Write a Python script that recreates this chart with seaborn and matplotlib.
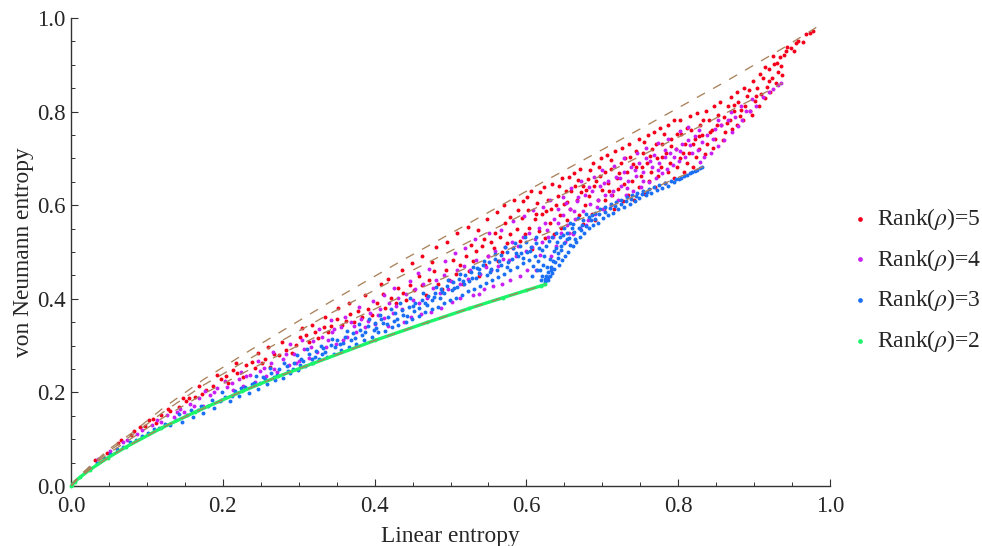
import matplotlib
matplotlib.use("Agg")
import matplotlib.pyplot as plt
import seaborn as sns
import pandas as pd
from matplotlib.ticker import MultipleLocator

# boundary curves, (linear entropy, von Neumann entropy)
curve_top = [(0, 0), (.003, .0072), (.0125, .024), (.0494, .078), (.08, .113), (.121, .166), (.175, .228), (.234, .288),
             (.340, .392), (.4375, .483), (.609, .638), (.75, .763), (.859, .861), (.9375, .935), (.984, .982)]
curve_rank4 = [(0, 0), (.003, .0068), (.0125, .023), (.0497, .0746), (.08, .108), (.1208, .157), (.175, .216),
               (.233, .270), (.3375, .365), (.433, .447), (.6, .584), (.733, .691), (.833, .772), (.9, .828),
               (.9375, .861)]
curve_rank3 = [(0, 0), (.003, .0065), (.0125, .0217), (.0492, .0695), (.08, .102), (.1203, .145), (.175, .197),
               (.231, .245), (.333, .327), (.425, .397), (.581, .509), (.7, .59), (.781, .646), (.8333, .6826)]
curve_rank2 = [(0, 0), (.0012, .0028), (.005, .0091), (.012, .019), (.0248, .0347), (.049, .0608), (.0728, .0837),
               (.119, .1237), (.163, .1576), (.225, .202), (.273, .2341), (.319, .262), (.4, .3109), (.469, .3494),
               (.525, .3796), (.569, .4023), (.6, .418), (.619, .4276), (.625, .4307)]

rank5_points = [
    (.031, .056), (.047, .071), (.062, .091), (.066, .098), (.079, .108), (.083, .117), (.091, .126), (.098, .129),
    (.103, .141), (.108, .144), (.112, .135), (.119, .151), (.131, .160), (.142, .168), (.151, .181), (.156, .187),
    (.163, .190), (.172, .197), (.178, .205), (.187, .214), (.198, .228), (.204, .236), (.207, .221), (.213, .247),
    (.219, .241), (.226, .232), (.231, .258), (.238, .264), (.243, .252), (.251, .262), (.256, .271), (.262, .255),
    (.268, .282), (.274, .279), (.283, .291), (.291, .284), (.297, .302), (.302, .319), (.309, .322), (.314, .308),
    (.321, .330), (.326, .317), (.333, .339), (.338, .328), (.342, .341), (.351, .357), (.357, .344), (.362, .352),
    (.368, .368), (.373, .351), (.378, .373), (.384, .362), (.391, .379), (.396, .366), (.403, .391), (.411, .411),
    (.414, .381), (.421, .402), (.428, .392), (.431, .424), (.437, .413), (.442, .398), (.447, .429), (.452, .418),
    (.458, .449), (.463, .429), (.468, .409), (.472, .441), (.478, .459), (.483, .432), (.489, .421), (.494, .462),
    (.498, .441), (.503, .483), (.507, .452), (.512, .472), (.516, .432), (.521, .491), (.524, .459), (.529, .481),
    (.533, .502), (.538, .449), (.541, .513), (.546, .472), (.549, .492), (.553, .522), (.557, .509), (.562, .481),
    (.565, .531), (.568, .499), (.572, .561), (.575, .519), (.579, .538), (.583, .508), (.587, .549), (.591, .523),
    (.594, .572), (.598, .538), (.602, .589), (.604, .552), (.608, .507), (.611, .571), (.614, .604), (.617, .544),
    (.621, .581), (.624, .529), (.628, .612), (.631, .561), (.633, .592), (.637, .538), (.641, .619), (.644, .579),
    (.646, .551), (.649, .602), (.652, .631), (.654, .569), (.657, .591), (.661, .541), (.664, .642), (.667, .612),
    (.669, .578), (.672, .629), (.674, .559), (.677, .601), (.681, .655), (.683, .619), (.686, .581), (.689, .641),
    (.691, .568), (.694, .612), (.697, .662), (.699, .632), (.702, .591), (.704, .611), (.707, .648), (.711, .678),
    (.713, .621), (.716, .592), (.719, .659), (.721, .634), (.724, .691), (.727, .608), (.729, .646), (.732, .671),
    (.734, .622), (.737, .702), (.739, .651), (.742, .612), (.745, .681), (.748, .639), (.751, .662), (.753, .711),
    (.756, .625), (.759, .691), (.761, .651), (.764, .672), (.766, .721), (.769, .638), (.772, .701), (.774, .662),
    (.777, .681), (.779, .731), (.782, .648), (.784, .712), (.787, .671), (.789, .691), (.791, .742), (.794, .659),
    (.797, .721), (.799, .682), (.802, .701), (.804, .752), (.807, .671), (.809, .731), (.812, .691), (.814, .712),
    (.817, .761), (.819, .681), (.822, .741), (.824, .703), (.827, .721), (.829, .772), (.832, .751), (.835, .709),
    (.838, .731), (.841, .781), (.844, .761), (.846, .722), (.849, .742), (.853, .792), (.856, .771), (.859, .739),
    (.862, .756), (.865, .811), (.868, .783), (.871, .762), (.874, .801), (.877, .772), (.879, .821), (.882, .791),
    (.885, .781), (.888, .812), (.891, .833), (.894, .802), (.897, .792), (.901, .822), (.904, .851), (.907, .812),
    (.909, .838), (.912, .871), (.915, .829), (.917, .852), (.919, .891), (.921, .842), (.924, .871), (.926, .902),
    (.929, .861), (.931, .885), (.934, .916), (.937, .878), (.939, .921), (.942, .929), (.944, .939), (.948, .936),
    (.952, .929), (.955, .947), (.958, .951), (.965, .949), (.969, .966), (.974, .968), (.977, .972),
    # upper sparse part of the band and the middle of the cloud
    (.128, .165), (.148, .187), (.169, .213), (.193, .238), (.217, .262), (.246, .284), (.259, .298), (.278, .308),
    (.305, .338), (.318, .345), (.335, .362), (.352, .381), (.366, .391), (.387, .408), (.408, .431), (.418, .442),
    (.436, .462), (.449, .477), (.462, .491), (.481, .511), (.476, .478), (.495, .521), (.509, .541), (.523, .553),
    (.536, .548), (.527, .516), (.544, .528), (.548, .571), (.559, .541), (.561, .586), (.571, .601), (.578, .574),
    (.584, .611), (.589, .589), (.596, .609), (.601, .618), (.606, .631), (.613, .581), (.618, .629), (.623, .638),
    (.626, .588), (.634, .646), (.639, .601), (.643, .642), (.647, .658), (.653, .606), (.656, .661), (.659, .631),
    (.663, .668), (.668, .653), (.671, .678), (.675, .642), (.679, .632), (.684, .676), (.688, .691), (.692, .652),
    (.695, .681), (.698, .701), (.703, .672), (.706, .708), (.709, .631), (.712, .697), (.717, .716), (.722, .668),
    (.726, .722), (.73, .701), (.735, .731), (.74, .688), (.744, .716), (.749, .742), (.752, .681), (.755, .735),
    (.76, .751), (.763, .706), (.768, .756), (.771, .731), (.776, .765), (.778, .703), (.781, .752), (.786, .772),
    (.79, .727), (.795, .781), (.798, .752), (.803, .783), (.806, .711), (.811, .766), (.816, .791), (.82, .731),
    (.825, .796), (.828, .748), (.833, .781), (.837, .802), (.842, .757), (.847, .811), (.851, .772), (.855, .821),
    (.86, .789), (.864, .776), (.87, .832), (.873, .814), (.878, .841), (.883, .803), (.887, .851), (.893, .846),
    (.898, .866), (.903, .833), (.908, .881), (.914, .895), (.92, .866), (.925, .918), (.93, .903), (.936, .898),
]

rank4_points = [
    (.036, .058), (.052, .074), (.068, .094), (.074, .098), (.087, .111), (.094, .119), (.107, .131), (.113, .141),
    (.127, .151), (.136, .147), (.144, .165), (.149, .158), (.157, .176), (.168, .188), (.174, .171), (.183, .194),
    (.192, .209), (.197, .183), (.206, .212), (.214, .206), (.221, .228), (.227, .213), (.236, .237), (.242, .222),
    (.249, .246), (.257, .235), (.264, .262), (.271, .243), (.279, .271), (.287, .258), (.294, .281), (.301, .268),
    (.307, .292), (.313, .274), (.319, .309), (.324, .286), (.331, .318), (.336, .298), (.344, .328), (.349, .303),
    (.356, .339), (.363, .318), (.369, .351), (.376, .328), (.382, .357), (.388, .339), (.394, .369), (.401, .347),
    (.407, .378), (.413, .358), (.419, .392), (.424, .369), (.431, .401), (.436, .379), (.442, .411), (.448, .362),
    (.453, .421), (.459, .391), (.464, .431), (.469, .402), (.474, .372), (.481, .441), (.486, .412), (.491, .451),
    (.497, .421), (.502, .393), (.508, .461), (.513, .432), (.518, .471), (.523, .442), (.529, .408), (.534, .482),
    (.539, .452), (.544, .421), (.549, .491), (.553, .461), (.558, .502), (.563, .471), (.568, .431), (.572, .511),
    (.577, .482), (.581, .522), (.586, .491), (.591, .449), (.595, .531), (.599, .502), (.604, .541), (.608, .511),
    (.612, .462), (.616, .551), (.621, .521), (.625, .561), (.629, .531), (.633, .491), (.636, .571), (.639, .512),
    (.642, .562), (.645, .541), (.648, .579), (.651, .521), (.654, .558), (.657, .592), (.661, .539), (.664, .571),
    (.667, .609), (.671, .552), (.674, .588), (.677, .621), (.681, .569), (.684, .602), (.687, .631), (.691, .581),
    (.694, .612), (.697, .641), (.701, .592), (.704, .621), (.708, .652), (.711, .601), (.714, .631), (.718, .661),
    (.721, .612), (.724, .642), (.728, .672), (.731, .621), (.734, .651), (.738, .681), (.741, .631), (.744, .662),
    (.748, .691), (.751, .639), (.754, .671), (.758, .701), (.761, .649), (.765, .681), (.768, .708), (.771, .659),
    (.775, .691), (.778, .668), (.782, .702), (.785, .678), (.789, .712), (.793, .686), (.797, .721), (.801, .694),
    (.805, .731), (.809, .702), (.813, .739), (.818, .711), (.822, .748), (.826, .719), (.829, .693), (.834, .702),
    (.838, .751), (.843, .712), (.848, .762), (.852, .726), (.857, .771), (.861, .739), (.866, .781), (.871, .757),
    (.875, .789), (.879, .769), (.884, .781), (.889, .801), (.894, .802), (.902, .812), (.912, .832), (.919, .842),
    (.925, .849), (.931, .856), (.936, .861),
    # further samples through the middle of the band
    (.118, .137), (.139, .158), (.162, .171), (.188, .201), (.212, .221), (.231, .236), (.254, .252), (.268, .249),
    (.283, .282), (.297, .262), (.316, .296), (.339, .312), (.347, .336), (.358, .311), (.373, .342), (.391, .352),
    (.404, .365), (.417, .341), (.428, .384), (.439, .351), (.451, .398), (.461, .368), (.477, .423), (.488, .381),
    (.501, .438), (.512, .402), (.526, .462), (.537, .411), (.547, .468), (.556, .428), (.569, .486), (.579, .441),
    (.589, .512), (.601, .462), (.611, .528), (.618, .493), (.627, .548), (.635, .532), (.641, .592), (.652, .605),
    (.656, .541), (.663, .587), (.668, .618), (.678, .558), (.682, .638), (.693, .596), (.702, .648), (.712, .622),
    (.723, .658), (.733, .636), (.743, .676), (.753, .652), (.763, .694), (.773, .676), (.783, .718), (.794, .702),
    (.803, .716), (.816, .728), (.831, .736), (.846, .741),
    (.176, .202), (.203, .224), (.224, .244), (.247, .268), (.266, .287), (.289, .303), (.304, .311), (.327, .336),
    (.342, .354), (.361, .362), (.379, .382), (.398, .396), (.412, .409), (.426, .423), (.446, .438), (.457, .456),
    (.472, .463), (.493, .481), (.506, .498), (.519, .509), (.532, .527), (.551, .541), (.567, .546), (.582, .567),
    (.597, .576), (.609, .589), (.622, .596), (.631, .611), (.648, .617), (.659, .636), (.672, .652), (.689, .661),
    (.699, .676), (.716, .684), (.729, .701), (.746, .711), (.757, .722), (.774, .733), (.787, .741), (.802, .758),
    (.813, .768), (.827, .761), (.853, .781), (.869, .799), (.883, .811), (.897, .826),
]

rank3_points = [
    (.024, .038), (.034, .050), (.044, .060), (.052, .068), (.061, .078), (.069, .084), (.078, .094), (.086, .099),
    (.094, .106), (.101, .114), (.109, .122), (.116, .125), (.124, .133), (.131, .130), (.138, .142), (.146, .137),
    (.153, .152), (.161, .148), (.167, .163), (.174, .156), (.181, .172), (.188, .166), (.196, .182), (.203, .190),
    (.209, .181), (.216, .204), (.222, .192), (.229, .212), (.235, .199), (.241, .221), (.247, .208), (.253, .233),
    (.258, .218), (.264, .241), (.269, .226), (.274, .249), (.279, .231), (.285, .257), (.289, .241), (.294, .263),
    (.299, .247), (.303, .272), (.308, .256), (.313, .281), (.318, .262), (.323, .288), (.327, .271), (.332, .295),
    (.337, .276), (.342, .302), (.346, .283), (.351, .311), (.356, .291), (.361, .318), (.366, .297), (.371, .326),
    (.376, .304), (.381, .333), (.386, .312), (.391, .341), (.396, .319), (.401, .348), (.405, .328), (.409, .356),
    (.414, .331), (.418, .361), (.423, .339), (.427, .369), (.431, .344), (.436, .376), (.441, .351), (.445, .383),
    (.449, .357), (.453, .391), (.458, .363), (.462, .398), (.466, .371), (.471, .406), (.475, .378), (.479, .413),
    (.483, .383), (.487, .421), (.491, .391), (.495, .428), (.499, .397), (.503, .436), (.507, .402), (.511, .443),
    (.515, .408), (.519, .451), (.523, .416), (.527, .458), (.531, .421), (.535, .466), (.539, .428), (.543, .473),
    (.547, .433), (.551, .479), (.555, .441), (.559, .486), (.563, .447), (.567, .493), (.571, .452), (.575, .501),
    (.579, .461), (.583, .508), (.587, .468), (.591, .513), (.595, .476), (.599, .521), (.603, .482), (.607, .449),
    (.611, .491), (.614, .462), (.617, .509), (.619, .441), (.622, .472), (.624, .436), (.626, .449), (.628, .441),
    (.629, .458), (.631, .449), (.632, .468), (.634, .456), (.635, .481), (.637, .463), (.639, .541), (.641, .488),
    (.643, .472), (.645, .512), (.647, .482), (.649, .551), (.651, .492), (.653, .528), (.655, .501), (.658, .561),
    (.661, .512), (.663, .542), (.666, .521), (.668, .572), (.671, .531), (.673, .558), (.676, .541), (.679, .581),
    (.682, .551), (.685, .569), (.688, .558), (.691, .584), (.694, .562), (.697, .591), (.701, .572), (.704, .597),
    (.707, .578), (.711, .602), (.714, .584), (.718, .606), (.721, .591), (.725, .611), (.728, .597), (.732, .617),
    (.736, .603), (.739, .622), (.743, .609), (.746, .626), (.749, .615), (.753, .631), (.757, .621), (.761, .634),
    (.764, .627), (.768, .638), (.772, .632), (.775, .643), (.779, .637), (.783, .647), (.786, .642), (.79, .651),
    (.794, .649), (.797, .655), (.801, .656), (.804, .659), (.808, .662), (.811, .664), (.815, .668), (.818, .671),
    (.822, .674), (.825, .676), (.829, .679), (.832, .682),
    # inner part of the cloud, lower edge to upper edge
    (.142, .153), (.158, .162), (.171, .172), (.186, .184), (.199, .201), (.212, .193), (.224, .209), (.238, .218),
    (.244, .236), (.256, .229), (.262, .252), (.272, .238), (.281, .262), (.292, .251), (.298, .279), (.306, .268),
    (.311, .292), (.322, .276), (.329, .299), (.335, .286), (.344, .314), (.354, .303), (.363, .331), (.369, .313),
    (.379, .347), (.384, .322), (.393, .356), (.399, .334), (.407, .366), (.416, .346), (.421, .378), (.429, .356),
    (.434, .391), (.443, .364), (.447, .402), (.452, .374), (.459, .381), (.464, .412), (.469, .386), (.476, .398),
    (.481, .426), (.486, .401), (.492, .412), (.497, .441), (.502, .418), (.509, .426), (.513, .452), (.518, .431),
    (.525, .439), (.529, .468), (.533, .444), (.538, .456), (.544, .481), (.548, .451), (.553, .463), (.558, .496),
    (.561, .461), (.566, .473), (.572, .511), (.576, .478), (.581, .486), (.585, .519), (.589, .491), (.593, .498),
    (.598, .531), (.601, .501), (.606, .511), (.609, .471), (.612, .533), (.615, .481), (.618, .462), (.621, .448),
    (.623, .491), (.625, .443), (.627, .469), (.629, .447), (.631, .486), (.633, .461), (.636, .502), (.638, .478),
    (.64, .521), (.642, .498), (.644, .532), (.646, .504), (.65, .519), (.654, .541), (.657, .516), (.66, .551),
    (.664, .528), (.669, .552), (.674, .568), (.678, .556), (.683, .574), (.69, .571), (.696, .581), (.703, .586),
    (.71, .594), (.717, .598), (.724, .603), (.731, .609), (.738, .613), (.745, .619), (.752, .624), (.759, .629),
    (.249, .221), (.267, .233), (.286, .246), (.302, .259), (.317, .271), (.331, .282), (.348, .296), (.359, .305),
    (.374, .316), (.388, .328), (.402, .338), (.411, .348), (.425, .353), (.438, .366), (.451, .384), (.467, .392),
    (.478, .404), (.489, .414), (.504, .423), (.516, .438), (.528, .444), (.537, .463), (.552, .457), (.564, .481),
    (.574, .469), (.586, .497), (.596, .488), (.605, .503), (.613, .519), (.62, .505), (.626, .512), (.63, .524),
    (.634, .531), (.639, .508), (.648, .537), (.656, .529), (.662, .559), (.672, .546), (.686, .578),
]

rank2_points = curve_rank2

rank_labels = ["Rank($\\rho$)=5", "Rank($\\rho$)=4", "Rank($\\rho$)=3", "Rank($\\rho$)=2"]
rank_colors = ["#f5001a", "#c91ff5", "#1a6ff5", "#1cf56a"]
rank_data = [rank5_points, rank4_points, rank3_points, rank2_points]
x_ticks = [0.0, 0.2, 0.4, 0.6, 0.8, 1.0]

sns.set_style("white")
plt.rcParams["font.family"] = ["Liberation Serif", "DejaVu Serif"]
plt.rcParams["mathtext.fontset"] = "stix"

fig = plt.figure(figsize=(9.82, 5.46), dpi=100)
ax = fig.add_axes([71 / 982, 1 - 486 / 546, 759 / 982, 468 / 546])

for points, label, color in zip(rank_data, rank_labels, rank_colors):
    df = pd.DataFrame(points, columns=["linear", "neumann"])
    sns.scatterplot(data=df, x="linear", y="neumann", color=color, label=label, s=8,
                    linewidth=0, ax=ax, clip_on=False, zorder=3)

# the rank 2 samples sit so close together they read as a solid stroke
df2 = pd.DataFrame(rank2_points, columns=["linear", "neumann"])
sns.lineplot(data=df2, x="linear", y="neumann", color=rank_colors[3], linewidth=2.4, ax=ax,
             legend=False, sort=False, estimator=None, zorder=3.5)

for curve in [curve_top, curve_rank4, curve_rank3, curve_rank2]:
    df = pd.DataFrame(curve, columns=["linear", "neumann"])
    sns.lineplot(data=df, x="linear", y="neumann", color="#a9825c", linewidth=0.95, ax=ax,
                 legend=False, sort=False, estimator=None, zorder=4)
    ax.lines[-1].set_dashes((7, 7))

ax.set_xlim(0, 1)
ax.set_ylim(0, 1)
ax.set_xticks(x_ticks)
ax.set_yticks(x_ticks)
ax.xaxis.set_minor_locator(MultipleLocator(0.05))
ax.yaxis.set_minor_locator(MultipleLocator(0.05))
ax.tick_params(axis="both", which="major", direction="in", length=5, width=0.8, color="#333333",
               labelsize=16.5, bottom=True, left=True)
ax.tick_params(axis="x", which="major", pad=7)
ax.tick_params(axis="y", which="major", pad=4)
ax.tick_params(axis="both", which="minor", direction="in", length=3, width=0.7, color="#333333",
               bottom=True, left=True)
ax.set_xlabel("Linear entropy", fontsize=16.8, labelpad=6.5)
ax.set_ylabel("von Neumann entropy", fontsize=16.8, labelpad=2)

for side in ["top", "right"]:
    ax.spines[side].set_visible(False)
for side in ["left", "bottom"]:
    ax.spines[side].set_color("#333333")
    ax.spines[side].set_linewidth(1.0)

ax.legend(loc="center left", bbox_to_anchor=(853 / 982, 1 - 280 / 546), bbox_transform=fig.transFigure,
          frameon=False, fontsize=17, labelspacing=0.62, handlelength=0.6, handletextpad=0.4, borderpad=0,
          borderaxespad=0, markerscale=1.2)

fig.savefig("out.png", dpi=100)
